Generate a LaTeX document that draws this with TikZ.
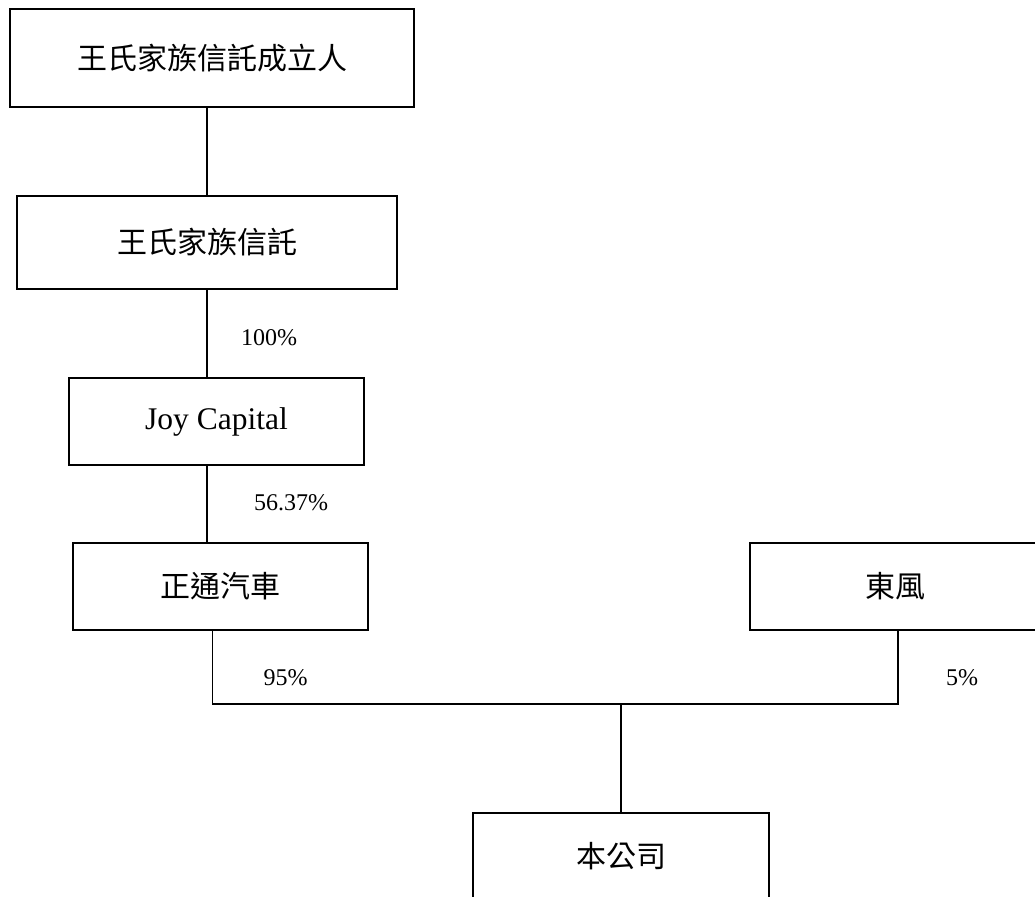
\documentclass[tikz,border=0pt]{standalone}
\usepackage{fontspec}
\setmainfont{Liberation Serif}
\newfontfamily\cjk{Noto Sans CJK TC}
\usetikzlibrary{positioning}

\begin{document}
\begin{tikzpicture}[x=1pt,y=-1pt,line width=1.6pt,
  blk/.style={draw, inner sep=0pt, font=\cjk\fontsize{30}{34}\selectfont},
  pct/.style={font=\fontsize{24}{28}\selectfont}]
\useasboundingbox (0,0) rectangle (1035,896);
\node (founder) [blk, minimum width=404pt, minimum height=98pt] at (212,58) {王氏家族信託成立人};
\node (trust) [blk, minimum width=380pt, minimum height=93pt] at (207,242.5) {王氏家族信託};
\node (joy) [blk, minimum width=295pt, minimum height=87pt, font=\fontsize{31.5}{35}\selectfont] at (216.5,421.5) {Joy Capital};
\node (zt) [blk, minimum width=295pt, minimum height=87pt] at (220.5,586.5) {正通汽車};
\node (df) [blk, minimum width=290pt, minimum height=87pt] at (895,586.5) {東風};
\node (co) [blk, minimum width=296pt, minimum height=87pt] at (621,856.5) {本公司};
\coordinate (j) at (co.north |- 0,704);
\draw (trust.north) -- (trust.north |- founder.south);
\draw (trust.south) -- node[pct, right=30pt, pos=0.55]{100\%} (trust.south |- joy.north);
\draw (trust.south |- joy.south) -- node[pct, right=43pt, pos=0.48]{56.37\%} (trust.south |- zt.north);
\draw ([xshift=-8pt]zt.south) |- node[pct, right=47pt, pos=0.32]{95\%} (j);
\draw ([xshift=3pt]df.south) |- node[pct, right=44pt, pos=0.32]{5\%} (j);
\draw (j) -- (co.north);
\end{tikzpicture}
\end{document}
